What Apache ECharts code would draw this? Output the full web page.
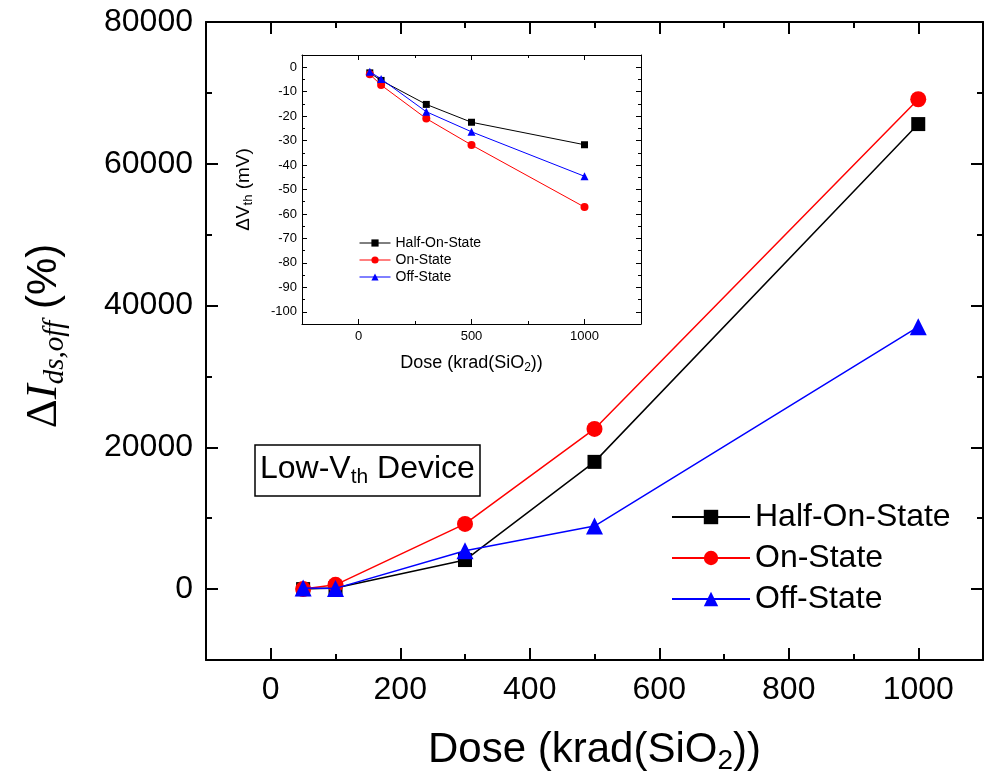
<!DOCTYPE html>
<html>
<head>
<meta charset="utf-8">
<script src="https://cdn.jsdelivr.net/npm/echarts@6/dist/echarts.min.js"></script>
<style>
html,body{margin:0;padding:0;background:#fff;}
#c{width:990px;height:781px;}
</style>
</head>
<body>
<div id="c"></div>
<script>
// ---- data ----
const doses = [50, 100, 300, 500, 1000];
const seriesNames = ['Half-On-State', 'On-State', 'Off-State'];
// main chart: ΔIds,off (%)
const halfOnMain = [0, 150, 4100, 17950, 65600];
const onMain = [0, 600, 9200, 22600, 69100];
const offMain = [150, 100, 5400, 8900, 37000];
// inset: ΔVth (mV)
const halfOnInset = [-2.3, -5.4, -15.2, -22.5, -31.7];
const onInset = [-2.9, -7.3, -21.0, -31.8, -57.2];
const offInset = [-1.8, -4.8, -18.2, -26.4, -44.6];
// tick values
const mainXMajor = [0, 200, 400, 600, 800, 1000];
const mainXMinor = [100, 300, 500, 700, 900];
const mainYMajor = [0, 20000, 40000, 60000, 80000];
const mainYMinor = [-10000, 10000, 30000, 50000, 70000];
const insetXMajor = [0, 500, 1000];
const insetXMinor = [-250, 250, 750, 1250];
const insetYMajor = [-100, -90, -80, -70, -60, -50, -40, -30, -20, -10, 0];
const insetYMinor = [-105, -95, -85, -75, -65, -55, -45, -35, -25, -15, -5, 5];

const SANS = "'Liberation Sans', Arial, sans-serif";
const SERIF = "'Liberation Serif', 'Times New Roman', serif";
const colors = ['#000000', '#ff0000', '#0000ff'];
const symbols = ['rect', 'circle', 'triangle'];

function mkAxis(o) {
  return {
    type: 'value',
    gridIndex: o.grid,
    position: o.pos,
    min: o.min, max: o.max,
    axisLine: { show: o.line, onZero: false, lineStyle: { color: '#000', width: o.lw } },
    axisTick: { show: true, inside: true, length: o.tl, customValues: o.ticks,
                lineStyle: { color: '#000', width: o.lw } },
    axisLabel: o.labels ? { show: true, customValues: o.ticks, color: '#000',
                fontFamily: SANS, fontSize: o.fs, margin: o.margin,
                formatter: v => String(v) } : { show: false },
    splitLine: { show: false },
    name: o.name || '',
    nameLocation: 'middle',
    nameGap: o.nameGap || 0,
    nameTextStyle: o.nameTextStyle || {}
  };
}

const xAxes = [
  mkAxis({grid:0,pos:'bottom',min:-100,max:1100,line:true,lw:2,tl:12,ticks:mainXMajor,labels:true,fs:32,margin:14,
    name:'{a|Dose (krad(SiO}{s|2}{a|))}', nameGap:65,
    nameTextStyle:{rich:{a:{fontFamily:SANS,fontSize:42,color:'#000',lineHeight:50},
                         s:{fontFamily:SANS,fontSize:28,color:'#000',lineHeight:22,verticalAlign:'bottom'}}}}),
  mkAxis({grid:0,pos:'bottom',min:-100,max:1100,line:false,lw:2,tl:6,ticks:mainXMinor,labels:false}),
  mkAxis({grid:0,pos:'top',min:-100,max:1100,line:true,lw:2,tl:12,ticks:mainXMajor,labels:false}),
  mkAxis({grid:0,pos:'top',min:-100,max:1100,line:false,lw:2,tl:6,ticks:mainXMinor,labels:false}),
  mkAxis({grid:1,pos:'bottom',min:-250,max:1250,line:true,lw:1,tl:5,ticks:insetXMajor,labels:true,fs:13,margin:6,
    name:'{a|Dose (krad(SiO}{s|2}{a|))}', nameGap:28,
    nameTextStyle:{rich:{a:{fontFamily:SANS,fontSize:18,color:'#000',lineHeight:22},
                         s:{fontFamily:SANS,fontSize:12,color:'#000',lineHeight:9,verticalAlign:'bottom'}}}}),
  mkAxis({grid:1,pos:'bottom',min:-250,max:1250,line:false,lw:1,tl:3,ticks:insetXMinor,labels:false}),
  mkAxis({grid:1,pos:'top',min:-250,max:1250,line:true,lw:1,tl:5,ticks:insetXMajor,labels:false}),
  mkAxis({grid:1,pos:'top',min:-250,max:1250,line:false,lw:1,tl:3,ticks:insetXMinor,labels:false})
];
const yAxes = [
  mkAxis({grid:0,pos:'left',min:-10000,max:80000,line:true,lw:2,tl:12,ticks:mainYMajor,labels:true,fs:32,margin:13,
    name:'{d|Δ}{i|I}{s|ds,off}{p| (%)}', nameGap:136,
    nameTextStyle:{padding:[0,0,0,10],
                   rich:{d:{fontFamily:SERIF,fontSize:45,color:'#000',lineHeight:52},
                         i:{fontFamily:SERIF,fontStyle:'italic',fontSize:45,color:'#000',lineHeight:52},
                         s:{fontFamily:SERIF,fontStyle:'italic',fontSize:29,color:'#000',lineHeight:24,verticalAlign:'bottom'},
                         p:{fontFamily:SANS,fontSize:42,color:'#000',lineHeight:52}}}}),
  mkAxis({grid:0,pos:'left',min:-10000,max:80000,line:false,lw:2,tl:6,ticks:mainYMinor,labels:false}),
  mkAxis({grid:0,pos:'right',min:-10000,max:80000,line:true,lw:2,tl:12,ticks:mainYMajor,labels:false}),
  mkAxis({grid:0,pos:'right',min:-10000,max:80000,line:false,lw:2,tl:6,ticks:mainYMinor,labels:false}),
  mkAxis({grid:1,pos:'left',min:-105,max:5,line:true,lw:1,tl:5,ticks:insetYMajor,labels:true,fs:13,margin:5,
    name:'{a|ΔV}{s|th}{a| (mV)}', nameGap:47,
    nameTextStyle:{rich:{a:{fontFamily:SANS,fontSize:19,color:'#000',lineHeight:22},
                         s:{fontFamily:SANS,fontSize:13,color:'#000',lineHeight:10,verticalAlign:'bottom'}}}}),
  mkAxis({grid:1,pos:'left',min:-105,max:5,line:false,lw:1,tl:3,ticks:insetYMinor,labels:false}),
  mkAxis({grid:1,pos:'right',min:-105,max:5,line:true,lw:1,tl:5,ticks:insetYMajor,labels:false}),
  mkAxis({grid:1,pos:'right',min:-105,max:5,line:false,lw:1,tl:3,ticks:insetYMinor,labels:false})
];

function pairs(xs, ys) { return xs.map((x, i) => [x, ys[i]]); }

const mainData = [halfOnMain, onMain, offMain];
const insetData = [halfOnInset, onInset, offInset];
const mainSizes = [14, 16, 17];
const insetSizes = [7, 8, 8];

const series = [];
seriesNames.forEach((n, k) => {
  series.push({
    name: n, type: 'line', xAxisIndex: 0, yAxisIndex: 0,
    data: pairs(doses, mainData[k]),
    symbol: symbols[k], symbolSize: mainSizes[k],
    lineStyle: { color: colors[k], width: 1.5 },
    itemStyle: { color: colors[k] },
    z: 3 + k
  });
});
seriesNames.forEach((n, k) => {
  series.push({
    name: n, type: 'line', xAxisIndex: 4, yAxisIndex: 4,
    data: pairs(doses, insetData[k]),
    symbol: symbols[k], symbolSize: insetSizes[k],
    lineStyle: { color: colors[k], width: 1 },
    itemStyle: { color: colors[k] },
    z: 10 + k
  });
});

const option = {
  animation: false,
  backgroundColor: '#fff',
  grid: [
    { left: 206, top: 22, width: 777, height: 638, containLabel: false },
    { left: 302, top: 55, width: 339, height: 269, containLabel: false }
  ],
  xAxis: xAxes,
  yAxis: yAxes,
  legend: [
    { data: seriesNames, left: 666, top: 496, orient: 'vertical', itemWidth: 78, itemHeight: 18, itemGap: 9,
      textStyle: { fontFamily: SANS, fontSize: 32, color: '#000' }, selectedMode: false },
    { data: seriesNames, left: 354, top: 231, orient: 'vertical', itemWidth: 31, itemHeight: 9, itemGap: 3,
      lineStyle: { width: 1 },
      textStyle: { fontFamily: SANS, fontSize: 14, color: '#000' }, selectedMode: false, z: 20 }
  ],
  title: {
    text: '{a|Low-V}{s|th}{a| Device}',
    left: 255, top: 442,
    padding: [8, 5, 8, 5],
    borderColor: '#000', borderWidth: 1.5, backgroundColor: '#fff',
    textStyle: { fontWeight: 'normal', rich: {
      a: { fontFamily: SANS, fontWeight: 'normal', fontSize: 32, color: '#000', lineHeight: 38 },
      s: { fontFamily: SANS, fontWeight: 'normal', fontSize: 21, color: '#000', lineHeight: 18, verticalAlign: 'bottom' }
    } }
  },
  series: series
};

const chart = echarts.init(document.getElementById('c'), null, { renderer: 'canvas' });
chart.setOption(option);
</script>
</body>
</html>
